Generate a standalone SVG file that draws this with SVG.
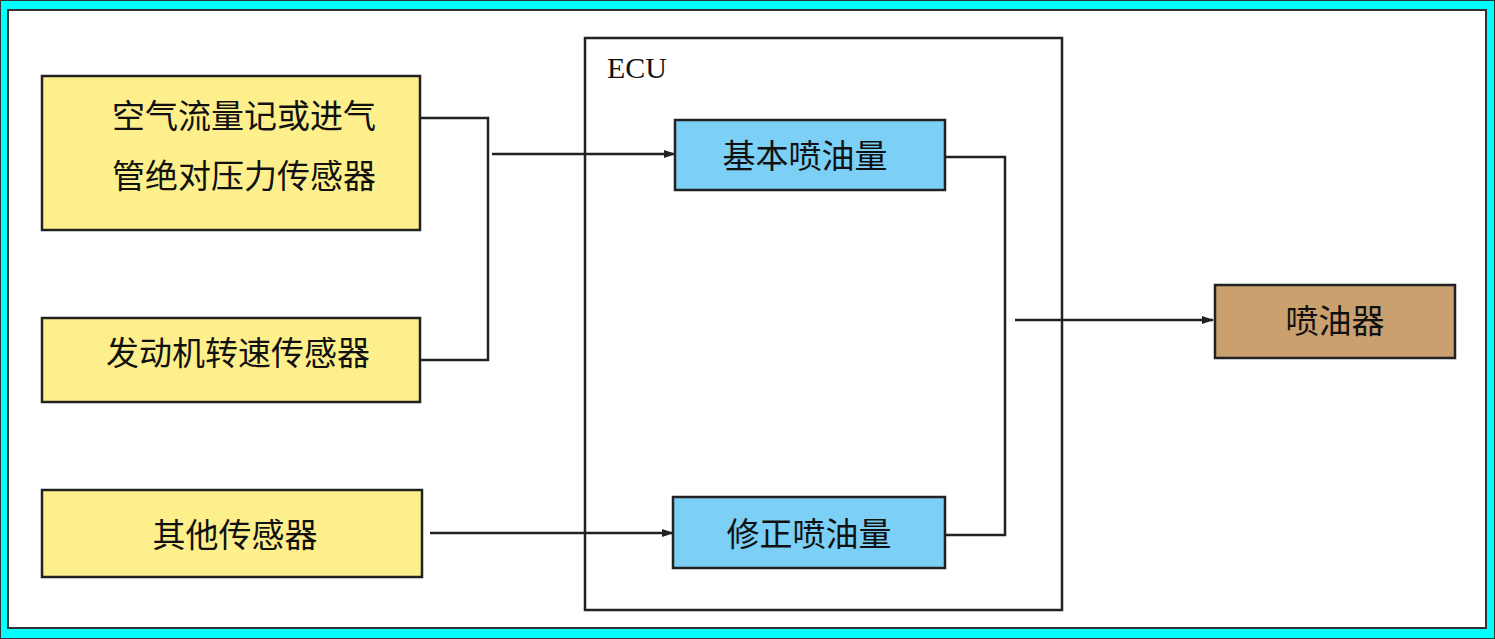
<svg xmlns="http://www.w3.org/2000/svg" width="1495" height="639" viewBox="0 0 1495 639">
<defs>
<marker id="ah" markerWidth="12" markerHeight="10" refX="11" refY="5" orient="auto" markerUnits="userSpaceOnUse"><path d="M0,1 L12,5 L0,9 Z" fill="#222"/></marker>
<style>
.bx{stroke:#222;stroke-width:2.5}
.t{font-family:"Noto Sans CJK SC",sans-serif;font-size:33px;fill:#111;text-anchor:middle}
.ln{fill:none;stroke:#222;stroke-width:2.5}
</style>
</defs>
<rect x="0" y="0" width="1495" height="639" fill="#00ffff"/>
<rect x="8" y="10" width="1478" height="618" fill="#fff" stroke="#333" stroke-width="2"/>
<rect x="0.5" y="0.5" width="1494" height="638" fill="none" stroke="#333" stroke-width="1"/>
<g id="ecu"><rect x="585" y="38" width="477" height="572" fill="#fff" class="bx"/><text x="607" y="78" style="font-family:'Liberation Serif',serif;font-size:30px;fill:#111">ECU</text></g>
<g id="sensorA"><rect x="42" y="76" width="378" height="154" fill="#fdf08c" class="bx"/><text x="244" y="128" class="t">空气流量记或进气</text><text x="244" y="188" class="t">管绝对压力传感器</text></g>
<g id="sensorB"><rect x="42" y="318" width="378" height="84" fill="#fdf08c" class="bx"/><text x="238" y="365" class="t">发动机转速传感器</text></g>
<g id="sensorC"><rect x="42" y="490" width="380" height="87" fill="#fdf08c" class="bx"/><text x="235" y="547" class="t">其他传感器</text></g>
<g id="basic"><rect x="675" y="120" width="270" height="70" fill="#7ccff5" class="bx"/><text x="805" y="168" class="t">基本喷油量</text></g>
<g id="corr"><rect x="673" y="497" width="272" height="71" fill="#7ccff5" class="bx"/><text x="809" y="546" class="t">修正喷油量</text></g>
<g id="injector"><rect x="1215" y="285" width="240" height="73" fill="#c9a06e" class="bx"/><text x="1335" y="333" class="t">喷油器</text></g>
<g id="connectors">
<path class="ln" d="M420,118 H488 V360 H420"/>
<path class="ln" d="M492,154 H675" marker-end="url(#ah)"/>
<path class="ln" d="M430,533 H673" marker-end="url(#ah)"/>
<path class="ln" d="M945,157 H1005 V535 H945"/>
<path class="ln" d="M1015,320 H1213" marker-end="url(#ah)"/>
</g>
</svg>
